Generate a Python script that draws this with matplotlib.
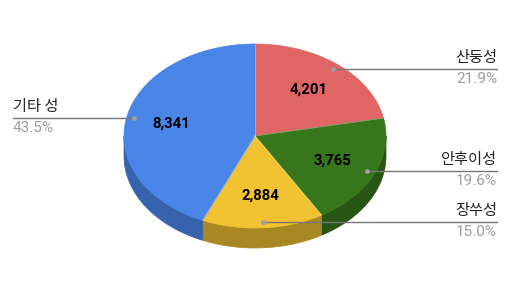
import numpy as np
import matplotlib.pyplot as plt
from matplotlib.patches import Polygon

# data
provinces = ['산둥성', '안후이성', '장쑤성', '기타 성']
values = [4201, 3765, 2884, 8341]
top_colors = ['#e06666', '#38761d', '#f1c232', '#4a86e8']
side_colors = ['#a84d4d', '#285414', '#a98723', '#3762ad']
label_side = ['right', 'right', 'right', 'left']

# pie geometry (pixels)
cx, cy = 255, 136
rx, ry = 131, 92
depth = 20


def pt(t, r=1.0):
    t = np.radians(t)
    return cx + rx * r * np.sin(t), cy - ry * r * np.cos(t)


fig = plt.figure(figsize=(5.11, 2.99), dpi=100)
ax = fig.add_axes([0, 0, 1, 1])
ax.set_xlim(0, 511)
ax.set_ylim(299, 0)
ax.axis('off')

total = sum(values)
fracs = [v / total for v in values]
bounds = np.concatenate([[0], np.cumsum(fracs)]) * 360

# side walls (front half only)
for i in range(len(values)):
    a, b = max(bounds[i], 90), min(bounds[i + 1], 270)
    if a >= b:
        continue
    ts = np.linspace(a, b, 80)
    xs, ys = pt(ts)
    verts = list(zip(xs, ys)) + list(zip(xs[::-1], ys[::-1] + depth))
    ax.add_patch(Polygon(verts, closed=True, facecolor=side_colors[i],
                         edgecolor=side_colors[i], linewidth=0.5))

# top faces
for i in range(len(values)):
    ts = np.linspace(bounds[i], bounds[i + 1], 120)
    xs, ys = pt(ts)
    verts = [(cx, cy)] + list(zip(xs, ys))
    ax.add_patch(Polygon(verts, closed=True, facecolor=top_colors[i],
                         edgecolor=top_colors[i], linewidth=0.5))
    # boundary line at slice start
    bx, by = pt(bounds[i])
    ax.plot([cx, bx], [cy, by], color='white', alpha=0.35, lw=0.6)

# value labels and leader lines
for i, (name, v, f) in enumerate(zip(provinces, values, fracs)):
    mid = (bounds[i] + bounds[i + 1]) / 2
    lx, ly = pt(mid, 0.65)
    ax.text(lx, ly, f'{v:,}', ha='center', va='center', fontsize=10.7,
            fontweight='bold', family='Roboto', color='black')

    dx, dy = pt(mid, 0.94)
    if label_side[i] == 'right':
        ex, ha = 497, 'right'
    else:
        ex, ha = 13, 'left'
    ax.plot([dx, ex], [dy, dy], color='#777777', lw=1)
    ax.plot(dx, dy, 'o', color='#9e9e9e', ms=3.5, mec='none')
    ax.text(ex, dy - 3, name, ha=ha, va='bottom', fontsize=11,
            family=['Noto Sans CJK KR', 'DejaVu Sans'], color='#222222')
    ax.text(ex, dy + 3, f'{f * 100:.1f}%', ha=ha, va='top', fontsize=11,
            family='Roboto', color='#9e9e9e')

fig.savefig('out.png', dpi=100)
